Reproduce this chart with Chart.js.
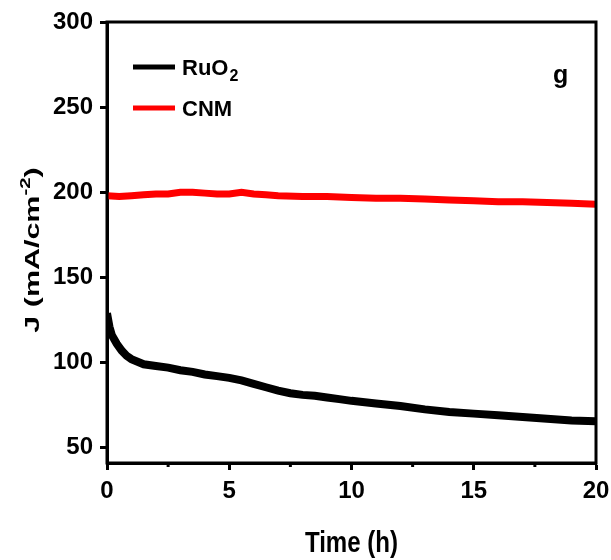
<!DOCTYPE html>
<html>
<head>
<meta charset="utf-8">
<script src="https://cdn.jsdelivr.net/npm/chart.js@4/dist/chart.umd.min.js"></script>
<style>
  body { margin: 0; background: #fff; }
</style>
</head>
<body>
<canvas id="myChart" width="611" height="560"></canvas>
<script>
// data
var ruTime = [0, 0.1, 0.2, 0.4, 0.6, 0.8, 1, 1.5, 2, 2.5, 3, 3.5, 4, 4.5, 5, 5.5, 6, 6.5, 7, 7.5, 8, 8.5, 9, 9.5, 10, 11, 12, 13, 14, 15, 16, 17, 18, 19, 20];
var ruJ = [129, 121, 116, 111, 107, 104, 102, 99, 98, 97, 95.5, 94.5, 93, 92, 91, 89.5, 87.5, 85.5, 83.5, 82, 81, 80.5, 79.5, 78.5, 77.5, 76, 74.5, 72.5, 71, 70, 69, 68, 67, 66, 65.5];
var cnmTime = [0, 0.5, 1, 1.5, 2, 2.5, 3, 3.5, 4, 4.5, 5, 5.5, 6, 6.5, 7, 8, 9, 10, 11, 12, 13, 14, 15, 16, 17, 18, 19, 20];
var cnmJ = [198, 197.5, 198, 198.5, 199, 199, 200, 200, 199.5, 199, 199, 200, 199, 198.5, 198, 197.5, 197.5, 197, 196.5, 196.5, 196, 195.5, 195, 194.5, 194.5, 194, 193.5, 193];
var xTicks = [0, 5, 10, 15, 20];
var xMinor = [2.5, 7.5, 12.5, 17.5];
var yTicks = [50, 100, 150, 200, 250, 300];

function pts(xs, ys) {
  return xs.map(function (x, i) { return { x: x, y: ys[i] }; });
}

var FONT = '"Liberation Sans", Arial, sans-serif';

// frame, minor ticks, legend, axis titles and panel letter
var extras = {
  id: 'extras',
  afterDraw: function (chart) {
    var ctx = chart.ctx, a = chart.chartArea;
    var xs = chart.scales.x;
    ctx.save();
    ctx.strokeStyle = '#000';
    ctx.lineWidth = 3;
    ctx.strokeRect(a.left, a.top, a.right - a.left, a.bottom - a.top);
    xMinor.forEach(function (v) {
      var px = xs.getPixelForValue(v);
      ctx.beginPath();
      ctx.moveTo(px, a.bottom);
      ctx.lineTo(px, a.bottom + 4);
      ctx.stroke();
    });

    // legend
    ctx.textBaseline = 'alphabetic';
    ctx.fillStyle = '#000';
    ctx.lineWidth = 5;
    ctx.strokeStyle = '#000';
    ctx.beginPath(); ctx.moveTo(133, 67); ctx.lineTo(175, 67); ctx.stroke();
    ctx.font = 'bold 22px ' + FONT;
    ctx.fillText('RuO', 182, 75);
    var w = ctx.measureText('RuO').width;
    ctx.font = 'bold 16px ' + FONT;
    ctx.fillText('2', 182 + w + 1, 81);
    ctx.strokeStyle = '#ff0000';
    ctx.beginPath(); ctx.moveTo(133, 108); ctx.lineTo(175, 108); ctx.stroke();
    ctx.font = 'bold 22px ' + FONT;
    ctx.fillText('CNM', 182, 116);

    ctx.font = 'bold 25px ' + FONT;
    ctx.fillText('g', 553, 83);

    // x axis title, condensed like the original
    ctx.save();
    ctx.translate((a.left + a.right) / 2, 552);
    ctx.scale(0.83, 1);
    ctx.font = 'bold 29px ' + FONT;
    ctx.textAlign = 'center';
    ctx.fillText('Time (h)', 0, 0);
    ctx.restore();

    // y axis title, stretched along the text like the original
    ctx.save();
    ctx.translate(39, 250);
    ctx.rotate(-Math.PI / 2);
    ctx.scale(1.45, 1);
    var p1 = 'J (mA/cm', sup = '-2', p2 = ')';
    ctx.font = 'bold 21px ' + FONT;
    var w1 = ctx.measureText(p1).width, w3 = ctx.measureText(p2).width;
    ctx.font = 'bold 14px ' + FONT;
    var w2 = ctx.measureText(sup).width;
    var x0 = -(w1 + w2 + w3) / 2;
    ctx.font = 'bold 21px ' + FONT;
    ctx.fillText(p1, x0, 0);
    ctx.font = 'bold 14px ' + FONT;
    ctx.fillText(sup, x0 + w1, -9);
    ctx.font = 'bold 21px ' + FONT;
    ctx.fillText(p2, x0 + w1 + w2, 0);
    ctx.restore();

    ctx.restore();
  }
};

var ctx = document.getElementById('myChart').getContext('2d');
var chart = new Chart(ctx, {
  type: 'line',
  data: {
    datasets: [{
      label: 'RuO2',
      data: pts(ruTime, ruJ),
      borderColor: '#000',
      borderWidth: 8,
      pointRadius: 0,
      tension: 0
    }, {
      label: 'CNM',
      data: pts(cnmTime, cnmJ),
      borderColor: '#ff0000',
      borderWidth: 7,
      pointRadius: 0,
      tension: 0
    }]
  },
  options: {
    responsive: false,
    animation: false,
    layout: { padding: { top: 22, right: 0, left: 0, bottom: 0 } },
    plugins: { legend: { display: false }, tooltip: { enabled: false } },
    scales: {
      x: {
        type: 'linear',
        min: 0, max: 20,
        afterBuildTicks: function (s) { s.ticks = xTicks.map(function (v) { return { value: v }; }); },
        afterFit: function (s) { s.height = 97; s.paddingRight = 15; },
        ticks: { color: '#000', font: { family: FONT, size: 24, weight: 'bold' }, padding: 7, maxRotation: 0 },
        grid: { drawOnChartArea: false, color: '#000', tickLength: 7, tickWidth: 3 },
        border: { color: '#000', width: 3 },
        title: { display: false }
      },
      y: {
        min: 41, max: 300,
        afterBuildTicks: function (s) { s.ticks = yTicks.map(function (v) { return { value: v }; }); },
        afterFit: function (s) { s.width = 107; },
        ticks: { color: '#000', font: { family: FONT, size: 24, weight: 'bold' }, padding: 7 },
        grid: { drawOnChartArea: false, color: '#000', tickLength: 7, tickWidth: 3 },
        border: { color: '#000', width: 3 },
        title: { display: false }
      }
    }
  },
  plugins: [extras]
});
</script>
</body>
</html>
